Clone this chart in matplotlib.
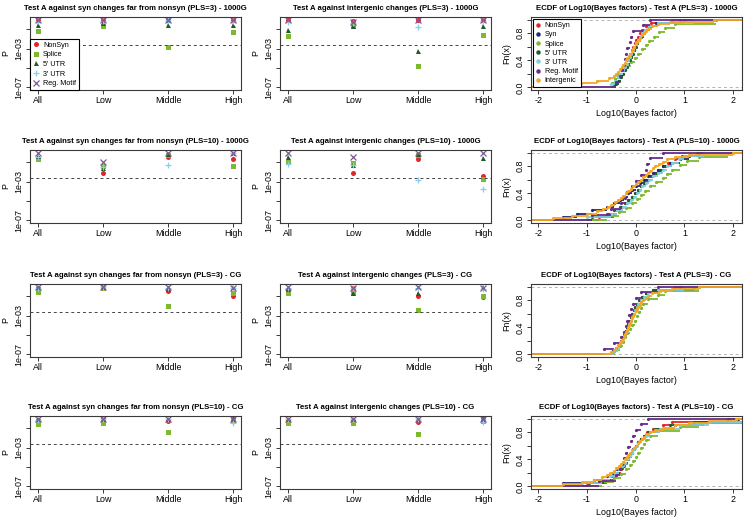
import matplotlib
matplotlib.use('Agg')
import matplotlib.pyplot as plt
import numpy as np

plt.rcParams['font.family'] = ['Liberation Sans', 'DejaVu Sans']
plt.rcParams['axes.unicode_minus'] = False

# ---------------- data ----------------
categories = ["All", "Low", "Middle", "High"]
p_series = ["NonSyn", "Splice", "5' UTR", "3' UTR", "Reg. Motif"]
threshold = 0.0025

# P values, order of rows = p_series, columns = categories
p_syn_pls3_1000g = [[0.85, 0.85, 0.9, 0.85], [0.063, 0.25, 0.0015, 0.05],
                    [0.30, 0.45, 0.30, 0.30], [0.8, 0.7, 0.9, 0.8], [0.85, 0.85, 1.0, 0.85]]
p_int_pls3_1000g = [[0.85, 0.66, 0.85, 0.85], [0.019, 0.25, 1.5e-5, 0.028],
                    [0.095, 0.25, 5.7e-4, 0.21], [0.56, 0.5, 0.17, 0.8], [0.9, 0.6, 0.9, 0.9]]
p_syn_pls10_1000g = [[0.27, 0.008, 0.34, 0.21], [0.21, 0.045, 0.59, 0.038],
                     [0.47, 0.026, 0.74, 1.0], [0.4, 0.03, 0.056, 0.9], [0.87, 0.12, 1.0, 0.95]]
p_int_pls10_1000g = [[0.12, 0.008, 0.21, 0.0036], [0.12, 0.083, 0.55, 0.0019],
                     [0.34, 0.048, 0.74, 0.31], [0.071, 0.06, 0.0014, 1.9e-4], [0.87, 0.34, 1.0, 1.0]]
p_syn_pls3_cg = [[0.68, 1.0, 0.39, 0.12], [0.31, 0.68, 0.011, 0.21],
                 [0.87, 0.87, 0.53, 0.87], [0.8, 0.9, 0.8, 0.68], [1.0, 1.0, 0.87, 0.8]]
p_int_pls3_cg = [[0.39, 0.68, 0.12, 0.093], [0.21, 0.21, 0.004, 0.12],
                 [0.53, 0.25, 0.21, 0.87], [0.7, 0.68, 0.8, 0.53], [0.87, 0.68, 0.87, 0.75]]
p_syn_pls10_cg = [[0.74, 0.87, 0.58, 0.87], [0.31, 0.39, 0.046, 0.6],
                  [1.0, 1.0, 1.0, 1.0], [0.8, 0.9, 0.9, 0.39], [0.87, 0.87, 0.9, 0.87]]
p_int_pls10_cg = [[0.74, 0.74, 0.45, 1.0], [0.33, 0.33, 0.029, 0.6],
                  [1.0, 1.0, 1.0, 0.87], [0.85, 0.9, 0.9, 0.45], [0.87, 0.87, 0.9, 0.9]]

ecdf_series = ["NonSyn", "Syn", "Splice", "5' UTR", "3' UTR", "Reg. Motif", "Intergenic"]

e_pls3_1000g = [
    [-0.45, -0.4, -0.36, -0.31, -0.27, -0.23, -0.2, -0.17, -0.14, -0.11, -0.08, -0.05, -0.02, 0.01, 0.04, 0.08, 0.13, 0.2, 0.32, 0.75],
    [-0.42, -0.37, -0.33, -0.28, -0.24, -0.2, -0.17, -0.13, -0.1, -0.07, -0.04, -0.01, 0.02, 0.05, 0.09, 0.14, 0.2, 0.28, 0.42, 0.9],
    [-0.48, -0.42, -0.38, -0.3, -0.2, -0.1, -0.02, 0.05, 0.12, 0.2, 0.28, 0.38, 0.48, 0.6, 0.8, 1.65],
    [-0.4, -0.35, -0.31, -0.27, -0.23, -0.19, -0.15, -0.12, -0.09, -0.06, -0.03, 0.0, 0.03, 0.07, 0.11, 0.16, 0.22, 0.3, 0.45, 1.0],
    [-0.5, -0.42, -0.37, -0.32, -0.27, -0.23, -0.19, -0.15, -0.12, -0.09, -0.06, -0.03, 0.0, 0.04, 0.08, 0.13, 0.19, 0.28, 0.45, 1.2],
    [-0.4, -0.33, -0.28, -0.25, -0.22, -0.2, -0.17, -0.12, -0.1, -0.05, 0.14, 0.3],
    [-1.5, -1.12, -0.8, -0.55, -0.45, -0.4, -0.36, -0.32, -0.29, -0.26, -0.23, -0.2, -0.17, -0.14, -0.11, -0.08, -0.06, -0.03, 0.0, 0.03, 0.06, 0.09, 0.12, 0.16, 0.2, 0.26, 0.34, 0.45, 0.7, 1.6],
]
e_pls10_1000g = [
    [-0.75, -0.45, -0.38, -0.3, -0.22, -0.15, -0.08, -0.02, 0.04, 0.1, 0.16, 0.22, 0.3, 0.38, 0.46, 0.56, 0.66, 0.8, 0.95, 1.25],
    [-1.5, -1.2, -0.9, -0.6, -0.45, -0.33, -0.24, -0.16, -0.08, 0.0, 0.08, 0.16, 0.25, 0.35, 0.45, 0.55, 0.7, 0.9, 1.1, 1.4],
    [-0.6, -0.35, -0.2, -0.08, 0.02, 0.1, 0.18, 0.3, 0.42, 0.55, 0.65, 0.75, 0.9, 1.05, 1.3, 1.9],
    [-0.9, -0.6, -0.45, -0.33, -0.23, -0.15, -0.08, -0.02, 0.04, 0.1, 0.17, 0.25, 0.33, 0.42, 0.5, 0.6, 0.75, 0.9, 1.0, 1.3],
    [-1.0, -0.5, -0.38, -0.27, -0.18, -0.1, -0.03, 0.03, 0.08, 0.13, 0.2, 0.27, 0.35, 0.45, 0.55, 0.65, 0.75, 0.88, 1.0, 1.4],
    [-0.9, -0.5, -0.3, -0.22, -0.18, -0.07, 0.0, 0.1, 0.2, 0.24, 0.3, 0.55],
    [-1.7, -1.3, -1.0, -0.8, -0.68, -0.58, -0.5, -0.43, -0.37, -0.31, -0.26, -0.2, -0.15, -0.1, -0.05, 0.0, 0.05, 0.1, 0.15, 0.2, 0.25, 0.3, 0.35, 0.4, 0.47, 0.55, 0.65, 0.8, 1.1, 2.0],
]
e_pls3_cg = [
    [-0.47, -0.4, -0.35, -0.31, -0.27, -0.24, -0.21, -0.18, -0.15, -0.12, -0.1, -0.07, -0.04, -0.01, 0.02, 0.06, 0.12, 0.2, 0.35, 0.8],
    [-0.46, -0.39, -0.34, -0.3, -0.26, -0.23, -0.2, -0.17, -0.14, -0.11, -0.08, -0.05, -0.02, 0.01, 0.04, 0.08, 0.14, 0.22, 0.4, 1.2],
    [-0.42, -0.33, -0.27, -0.22, -0.17, -0.12, -0.07, -0.02, 0.02, 0.06, 0.1, 0.15, 0.25, 0.45, 0.6, 1.3],
    [-0.45, -0.38, -0.33, -0.29, -0.26, -0.23, -0.2, -0.18, -0.16, -0.13, -0.1, -0.07, -0.04, -0.01, 0.02, 0.06, 0.12, 0.2, 0.35, 0.9],
    [-0.45, -0.37, -0.32, -0.28, -0.25, -0.22, -0.19, -0.16, -0.13, -0.1, -0.07, -0.04, -0.01, 0.02, 0.05, 0.1, 0.16, 0.25, 0.45, 1.0],
    [-0.65, -0.45, -0.3, -0.24, -0.2, -0.17, -0.14, -0.1, -0.05, 0.0, 0.1, 0.45],
    [-0.5, -0.44, -0.4, -0.36, -0.33, -0.3, -0.27, -0.25, -0.22, -0.2, -0.18, -0.16, -0.13, -0.11, -0.09, -0.07, -0.05, -0.03, 0.0, 0.02, 0.05, 0.08, 0.11, 0.15, 0.2, 0.26, 0.34, 0.5, 0.75, 1.3],
]
e_pls10_cg = [
    [-1.0, -0.6, -0.45, -0.37, -0.3, -0.25, -0.2, -0.15, -0.11, -0.07, -0.03, 0.01, 0.05, 0.1, 0.16, 0.24, 0.35, 0.55, 0.75, 2.3],
    [-1.5, -0.85, -0.6, -0.47, -0.38, -0.31, -0.25, -0.19, -0.14, -0.09, -0.05, 0.0, 0.05, 0.11, 0.18, 0.28, 0.45, 0.8, 1.4, 2.1],
    [-0.7, -0.45, -0.3, -0.2, -0.12, -0.06, 0.0, 0.05, 0.1, 0.16, 0.22, 0.3, 0.45, 0.9, 1.3, 2.5],
    [-0.95, -0.65, -0.5, -0.4, -0.33, -0.27, -0.22, -0.17, -0.12, -0.08, -0.04, 0.0, 0.05, 0.1, 0.17, 0.25, 0.4, 0.7, 1.2, 1.9],
    [-1.1, -0.7, -0.52, -0.42, -0.34, -0.28, -0.22, -0.17, -0.12, -0.07, -0.03, 0.02, 0.07, 0.13, 0.2, 0.3, 0.5, 0.9, 1.5, 2.3],
    [-0.75, -0.4, -0.33, -0.28, -0.24, -0.2, -0.15, -0.1, -0.05, 0.0, 0.1, 0.25],
    [-1.5, -1.1, -0.85, -0.7, -0.6, -0.52, -0.45, -0.4, -0.35, -0.31, -0.27, -0.23, -0.19, -0.15, -0.11, -0.08, -0.04, 0.0, 0.04, 0.08, 0.12, 0.17, 0.22, 0.3, 0.4, 0.55, 0.8, 1.1, 1.5, 2.05],
]

titles_syn = ["Test A against syn changes far from nonsyn (PLS=3) - 1000G",
              "Test A against syn changes far from nonsyn (PLS=10) - 1000G",
              "Test A against syn changes far from nonsyn (PLS=3) - CG",
              "Test A against syn changes far from nonsyn (PLS=10) - CG"]
titles_int = ["Test A against intergenic changes (PLS=3) - 1000G",
              "Test A against intergenic changes (PLS=10) - 1000G",
              "Test A against intergenic changes (PLS=3) - CG",
              "Test A against intergenic changes (PLS=10) - CG"]
titles_ecdf = ["ECDF of Log10(Bayes factors) - Test A (PLS=3) - 1000G",
               "ECDF of Log10(Bayes factors) - Test A (PLS=10) - 1000G",
               "ECDF of Log10(Bayes factors) - Test A (PLS=3) - CG",
               "ECDF of Log10(Bayes factors) - Test A (PLS=10) - CG"]

# ---------------- style ----------------
p_colors = ['#E0262A', '#7DB92E', '#1D5C2A', '#87CEEB', '#7E5A9B']
p_markers = ['o', 's', '^', '+', 'x']
e_colors = ['#E0262A', '#1F2A6E', '#7DB92E', '#1D5C2A', '#7FCFE0', '#6A2C8C', '#F5A623']

FS = 6.4       # tick / axis label size
TFS = 5.6      # title size
EDGE = '#3a3a3a'

fig = plt.figure(figsize=(7.45, 5.18), dpi=100)
col_left = [30, 280, 531]
W, H = 211, 73
row_top = [17, 150, 284, 416]


def make_ax(r, c):
    l = col_left[c] / 745
    b = 1 - (row_top[r] + H) / 518
    ax = fig.add_axes([l, b, W / 745, H / 518])
    for s in ax.spines.values():
        s.set_color(EDGE)
        s.set_linewidth(0.8)
    ax.tick_params(length=3, width=0.7, color=EDGE, labelsize=FS, pad=1.5)
    return ax


def p_panel(ax, data, title, legend=False):
    x = np.arange(1, len(categories) + 1)
    for i, name in enumerate(p_series):
        if p_markers[i] in ('+', 'x'):
            ax.plot(x, data[i], linestyle='none', marker=p_markers[i], color=p_colors[i],
                    ms=4, mew=0.9, label=name)
        else:
            ax.plot(x, data[i], linestyle='none', marker=p_markers[i], color=p_colors[i],
                    ms=3.6, mew=0, label=name)
    ax.axhline(threshold, color='#444444', lw=0.7, ls=(0, (3, 3)))
    ax.set_yscale('log')
    ax.set_ylim(10 ** -7.28, 10 ** 0.28)
    ax.set_xlim(0.88, 4.12)
    ax.set_xticks(x)
    ax.set_xticklabels(categories)
    ax.set_yticks([1e-7, 1e-5, 1e-3, 1e-1])
    ax.set_yticklabels(['1e-07', '', '1e-03', ''], rotation=90, va='center')
    ax.yaxis.set_minor_locator(matplotlib.ticker.NullLocator())
    ax.set_ylabel('P', fontsize=FS, labelpad=3)
    ax.set_title(title, fontsize=TFS, fontweight='bold', pad=5)
    if legend:
        leg = ax.legend(loc='lower left', fontsize=FS - 1.2, frameon=True, fancybox=False,
                        edgecolor='black', framealpha=1, borderpad=0.4, labelspacing=0.35,
                        handlelength=0.8, handletextpad=0.6, borderaxespad=0)
        leg.get_frame().set_linewidth(0.8)


def ecdf_panel(ax, data, title, legend=False):
    xl = (-2.15, 2.18)
    ax.axhline(0, color='#b3b3b3', lw=0.7, ls=(0, (3, 3)))
    ax.axhline(1, color='#b3b3b3', lw=0.7, ls=(0, (3, 3)))
    for i, name in enumerate(ecdf_series):
        v = np.sort(np.array(data[i], dtype=float))
        n = len(v)
        F = np.arange(1, n + 1) / n
        starts = np.concatenate([[xl[0] - 1], v])
        ends = np.concatenate([v, [xl[1] + 1]])
        levels = np.concatenate([[0.0], F])
        ax.hlines(levels, starts, ends, color=e_colors[i], lw=1.3)
        ax.plot(v, F, linestyle='none', marker='o', ms=2.3, mew=0, color=e_colors[i], label=name)
    ax.set_xlim(*xl)
    ax.set_ylim(-0.04, 1.04)
    ax.set_xticks([-2, -1, 0, 1, 2])
    ax.set_yticks([0, 0.2, 0.4, 0.6, 0.8, 1.0])
    ax.set_yticklabels(['0.0', '', '0.4', '', '0.8', ''], rotation=90, va='center')
    ax.set_ylabel('Fn(x)', fontsize=FS, labelpad=3)
    ax.set_xlabel('Log10(Bayes factor)', fontsize=FS, labelpad=3)
    ax.set_title(title, fontsize=TFS, fontweight='bold', pad=5)
    if legend:
        leg = ax.legend(loc='upper left', fontsize=FS - 1.2, frameon=True, fancybox=False,
                        edgecolor='black', framealpha=1, borderpad=0.4, labelspacing=0.3,
                        handlelength=0.6, handletextpad=0.6, borderaxespad=0.3, markerscale=1.4)
        leg.get_frame().set_linewidth(0.8)


p_syn = [p_syn_pls3_1000g, p_syn_pls10_1000g, p_syn_pls3_cg, p_syn_pls10_cg]
p_int = [p_int_pls3_1000g, p_int_pls10_1000g, p_int_pls3_cg, p_int_pls10_cg]
e_all = [e_pls3_1000g, e_pls10_1000g, e_pls3_cg, e_pls10_cg]

for r in range(4):
    p_panel(make_ax(r, 0), p_syn[r], titles_syn[r], legend=(r == 0))
    p_panel(make_ax(r, 1), p_int[r], titles_int[r])
    ecdf_panel(make_ax(r, 2), e_all[r], titles_ecdf[r], legend=(r == 0))

fig.savefig('out.png', dpi=100)
